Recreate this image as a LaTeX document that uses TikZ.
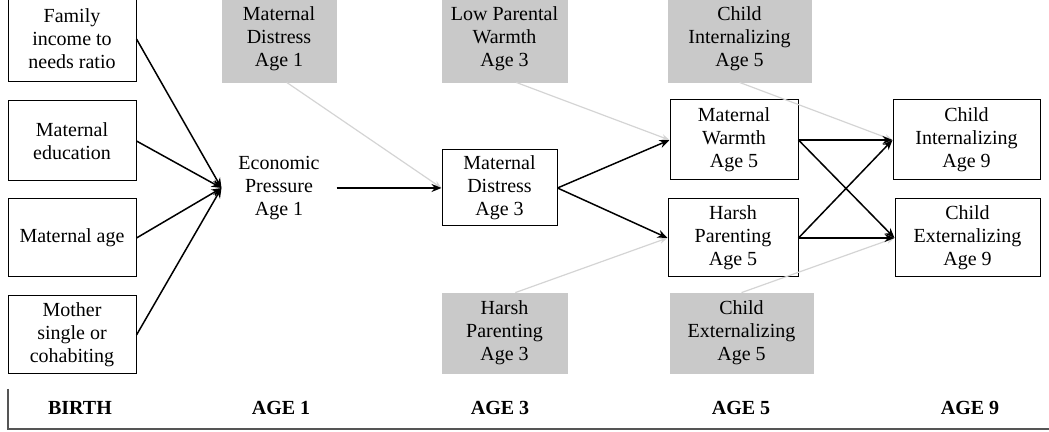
\documentclass[tikz,border=0pt]{standalone}
\usepackage{fontspec}
\setmainfont{Liberation Serif}
\usepackage{tikz}
\usetikzlibrary{arrows.meta, positioning}
\definecolor{ctrlgray}{HTML}{C9C9C9}
\definecolor{ctrlline}{HTML}{D4D4D4}
\definecolor{axisgray}{HTML}{555555}
\tikzset{
	varbox/.style={rectangle, draw=black, line width=0.5pt, fill=white, align=center, inner sep=2pt, font=\fontsize{10}{11.5}\selectfont},
	ctrlbox/.style={rectangle, draw=ctrlgray, fill=ctrlgray, align=center, inner sep=2pt, font=\fontsize{10}{11.5}\selectfont},
	wave/.style={font=\fontsize{10}{12}\selectfont\bfseries},
	arrow/.style={line width=0.75pt,-{Stealth[length=5pt, width=4pt]}},
	ctrlarrow/.style={line width=0.6pt, draw=ctrlline, -{Stealth[length=4pt, width=3pt]}}
}
\begin{document}
\begin{tikzpicture}[x=0.5pt, y=-0.5pt]
		\useasboundingbox (0,0) rectangle (1049,432);
		% Birth covariates
		\node (fam) [varbox, minimum width=64pt, minimum height=43pt] at (72,39) {Family\\income to\\needs ratio};
		\node (edu) [varbox, minimum width=64pt, minimum height=40pt, below=9pt of fam] {Maternal\\education};
		\node (mage) [varbox, minimum width=64pt, minimum height=39pt, below=8.5pt of edu] {Maternal age};
		\node (single) [varbox, minimum width=64pt, minimum height=39pt, below=9pt of mage] {Mother\\single or\\cohabiting};
		
		% Age 1
		\node (mdist1) [ctrlbox, minimum width=57pt, minimum height=43pt] at (279,39) {Maternal\\Distress\\Age 1};
		\node (econ) [varbox, draw=none, minimum width=57pt, minimum height=38pt] at (279,188) {Economic\\Pressure\\Age 1};
		
		% Age 3
		\node (lpw3) [ctrlbox, minimum width=62.5pt, minimum height=43pt] at (504.5,39) {Low Parental\\Warmth\\Age 3};
		\node (mdist3) [varbox, minimum width=57.5pt, minimum height=38pt] at (499.5,188) {Maternal\\Distress\\Age 3};
		\node (harsh3) [ctrlbox, minimum width=62.5pt, minimum height=40pt] at (504.5,333) {Harsh\\Parenting\\Age 3};
		
		% Age 5
		\node (cint5) [ctrlbox, minimum width=71.5pt, minimum height=43pt] at (739.5,39) {Child\\Internalizing\\Age 5};
		\node (mwarm5) [varbox, minimum width=64pt, minimum height=40pt] at (734,140) {Maternal\\Warmth\\Age 5};
		\node (harsh5) [varbox, minimum width=65pt, minimum height=39pt, below=9pt of mwarm5.south east, anchor=north east] {Harsh\\Parenting\\Age 5};
		\node (cext5) [ctrlbox, minimum width=71.5pt, minimum height=40pt] at (741.5,333) {Child\\Externalizing\\Age 5};
		
		% Age 9
		\node (cint9) [varbox, minimum width=73.5pt, minimum height=40pt] at (966.5,140) {Child\\Internalizing\\Age 9};
		\node (cext9) [varbox, minimum width=72.5pt, minimum height=39pt, below=9pt of cint9.south east, anchor=north east] {Child\\Externalizing\\Age 9};
		
		% Waves
		\node (wbirth) [wave] at (80,408) {BIRTH};
		\node (wage1) [wave] at (281,408) {AGE 1};
		\node (wage3) [wave] at (500,408) {AGE 3};
		\node (wage5) [wave] at (741,408) {AGE 5};
		\node (wage9) [wave] at (970,408) {AGE 9};
		\draw [axisgray, line width=1pt] (8,389) -- (8,429) -- (1049,429);
		
		% Controls
		\draw [ctrlarrow] (mdist1.-80) -- (mdist3.west);
		\draw [ctrlarrow] (lpw3.-75) -- (mwarm5.west);
		\draw [ctrlarrow] (harsh3.75) -- (harsh5.west);
		\draw [ctrlarrow] (cint5.south) -- (cint9.west);
		\draw [ctrlarrow] (cext5.north) -- (cext9.west);
		
		% Paths
		\foreach \cov in {fam, edu, mage, single}
			\draw [arrow] (\cov.east) -- (econ.west);
		\draw [arrow] (econ.east) -- (mdist3.west);
		\draw [arrow] (mdist3.east) -- (mwarm5.west);
		\draw [arrow] (mdist3.east) -- (harsh5.west);
		\draw [arrow] (mwarm5.east) -- (cint9.west);
		\draw [arrow] (mwarm5.east) -- (cext9.west);
		\draw [arrow] (harsh5.east) -- (cint9.west);
		\draw [arrow] (harsh5.east) -- (cext9.west);
	\end{tikzpicture}
\end{document}
